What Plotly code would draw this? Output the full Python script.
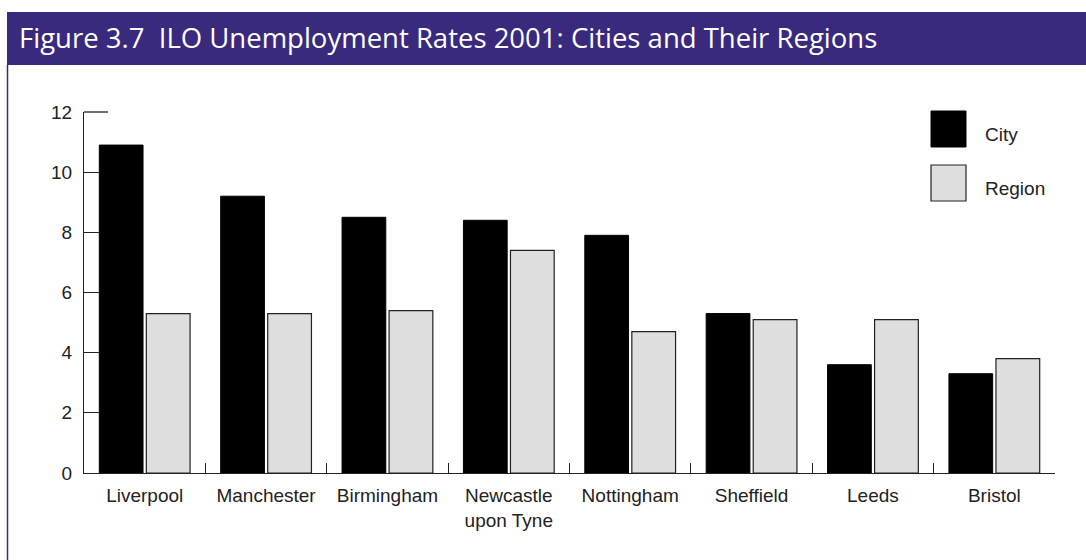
import plotly.graph_objects as go

cities = ["Liverpool", "Manchester", "Birmingham", "Newcastle<br>upon Tyne",
          "Nottingham", "Sheffield", "Leeds", "Bristol"]
city_rate = [10.9, 9.2, 8.5, 8.4, 7.9, 5.3, 3.6, 3.3]
region_rate = [5.3, 5.3, 5.4, 7.4, 4.7, 5.1, 5.1, 3.8]
y_ticks = [0, 2, 4, 6, 8, 10, 12]
title_text = "Figure 3.7\u00a0 ILO Unemployment Rates 2001: Cities and Their Regions"

W, H = 1086, 560
L, R, T, B = 84, 31, 112, 87
PW, PH = W - L - R, H - T - B

def px(x):
    return (x - L) / PW

def py(y):
    return (H - B - y) / PH

PURPLE = "#3a2a7e"
AX = "#222222"
FONT = "Liberation Sans, Arial, sans-serif"
FS = 19

fig = go.Figure()
fig.add_trace(go.Bar(x=cities, y=city_rate, name="City",
                     marker=dict(color="#000000", line=dict(color="#000000", width=1))))
fig.add_trace(go.Bar(x=cities, y=region_rate, name="Region",
                     marker=dict(color="#dedede", line=dict(color=AX, width=1.2))))

shapes = [
    dict(type="rect", xref="paper", yref="paper", x0=px(7), x1=px(1090), y0=py(65), y1=py(12),
         fillcolor=PURPLE, line=dict(width=0), layer="above"),
    dict(type="line", xref="paper", yref="paper", x0=px(7.5), x1=px(7.5), y0=py(65), y1=py(562),
         line=dict(color=PURPLE, width=1.5)),
    dict(type="line", xref="paper", yref="paper", x0=0, x1=px(108), y0=1, y1=1,
         line=dict(color=AX, width=1.3)),
    dict(type="rect", xref="paper", yref="paper", x0=px(931), x1=px(966), y0=py(147), y1=py(111),
         fillcolor="#000000", line=dict(color="#000000", width=1)),
    dict(type="rect", xref="paper", yref="paper", x0=px(931), x1=px(966), y0=py(201), y1=py(165),
         fillcolor="#dedede", line=dict(color=AX, width=1.2)),
]

annotations = [
    dict(text=title_text, xref="paper", yref="paper", x=px(17), y=py(37), xanchor="left",
         yanchor="middle", showarrow=False,
         font=dict(family="Open Sans, sans-serif", size=27.5, color="white")),
    dict(text="City", xref="paper", yref="paper", x=px(983), y=py(134), xanchor="left",
         yanchor="middle", showarrow=False, font=dict(family=FONT, size=FS, color=AX)),
    dict(text="Region", xref="paper", yref="paper", x=px(983), y=py(188), xanchor="left",
         yanchor="middle", showarrow=False, font=dict(family=FONT, size=FS, color=AX)),
]

fig.update_layout(
    width=W, height=H,
    margin=dict(l=L, r=R, t=T, b=B),
    paper_bgcolor="white", plot_bgcolor="white",
    barmode="group", bargap=0.225, bargroupgap=0.07,
    showlegend=False,
    shapes=shapes, annotations=annotations,
    font=dict(family=FONT, size=FS, color=AX),
    xaxis=dict(showline=True, linecolor=AX, linewidth=1.3, ticks="inside", ticklen=10,
               tickcolor=AX, tickwidth=1.3, tickson="boundaries", showgrid=False,
               ticklabelstandoff=5, tickfont=dict(size=FS, color=AX)),
    yaxis=dict(range=[0, 12], tickvals=y_ticks, showline=True, linecolor=AX, linewidth=1.3,
               ticks="inside", ticklen=15, tickcolor=AX, tickwidth=1.3, showgrid=False,
               zeroline=False, ticklabelstandoff=7, tickfont=dict(size=FS, color=AX)),
)

fig.write_html("out.html", config={"displayModeBar": False},
               post_script="document.body.style.margin='0';")
